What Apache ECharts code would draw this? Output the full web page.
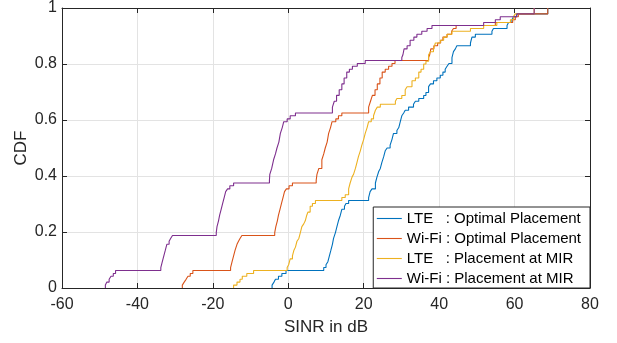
<!DOCTYPE html>
<html>
<head>
<meta charset="utf-8">
<script src="https://cdn.jsdelivr.net/npm/echarts@6/dist/echarts.min.js"></script>
<style>
  html, body { margin: 0; padding: 0; background: #fff; }
  #chart { width: 617px; height: 343px; }
</style>
</head>
<body>
<div id="chart"></div>
<script>
// empirical CDF steps: [SINR (dB), CDF]
const lteOptimal = [
  [-4.3, 0], [-4.3, 0.0104], [-3.8, 0.021], [-3.4, 0.031], [-2.6, 0.042], [-1.7, 0.052], [-0.6, 0.0625],
  [9.4, 0.073], [10.0, 0.083], [10.5, 0.094], [10.9, 0.115], [11.3, 0.135], [11.7, 0.156], [12.0, 0.177],
  [12.5, 0.198], [12.9, 0.219], [13.3, 0.24], [13.8, 0.26], [14.2, 0.281], [14.9, 0.292], [15.3, 0.302], [16.0, 0.3125],
  [21.3, 0.323], [21.7, 0.344], [22.2, 0.354], [23.1, 0.375], [23.5, 0.396], [24.0, 0.417], [24.4, 0.427],
  [24.8, 0.448], [25.3, 0.469], [25.7, 0.49], [26.2, 0.5], [27.0, 0.51], [27.5, 0.531], [27.9, 0.552],
  [28.8, 0.5625], [29.3, 0.573], [29.7, 0.594], [30.1, 0.615], [30.6, 0.625], [31.0, 0.635], [31.9, 0.646],
  [33.2, 0.656], [33.7, 0.667], [34.6, 0.677], [35.9, 0.6875], [36.5, 0.698], [37.2, 0.719], [37.7, 0.729],
  [38.5, 0.74], [39.4, 0.75], [40.3, 0.76], [41.0, 0.771], [41.6, 0.781], [42.1, 0.792], [42.6, 0.802],
  [43.4, 0.823], [43.8, 0.844], [44.3, 0.854], [44.7, 0.865], [48.3, 0.875], [48.7, 0.896], [49.6, 0.906],
  [54.0, 0.917], [54.4, 0.927], [58.0, 0.9375], [58.4, 0.948], [59.3, 0.958], [59.7, 0.969], [60.5, 0.979], [68.8, 1.0]
]
const wifiOptimal = [
  [-28.1, 0], [-28.1, 0.0104], [-27.6, 0.021], [-27.1, 0.031], [-26.6, 0.042], [-26.0, 0.052], [-25.3, 0.0625],
  [-15.3, 0.073], [-14.9, 0.094], [-14.5, 0.115], [-14.1, 0.135], [-13.6, 0.156], [-13.2, 0.167], [-12.8, 0.177], [-12.3, 0.1875],
  [-3.6, 0.198], [-3.3, 0.219], [-2.9, 0.24], [-2.6, 0.26], [-2.2, 0.281], [-1.8, 0.302], [-1.4, 0.323],
  [-1.0, 0.344], [-0.5, 0.354], [0.2, 0.365], [1.1, 0.375],
  [7.4, 0.385], [7.6, 0.406], [8.1, 0.427], [8.9, 0.458], [9.4, 0.479], [9.8, 0.5], [10.3, 0.521],
  [10.7, 0.552], [11.2, 0.573], [11.6, 0.594], [12.6, 0.604], [13.3, 0.615], [14.2, 0.625],
  [21.3, 0.646], [21.8, 0.667], [22.3, 0.688], [23.0, 0.708], [23.6, 0.729], [24.3, 0.75], [24.9, 0.771],
  [25.7, 0.781], [26.6, 0.792], [27.5, 0.802], [28.3, 0.8125],
  [37.2, 0.823], [37.5, 0.833], [37.8, 0.854], [38.6, 0.865], [39.6, 0.875], [40.4, 0.885], [41.0, 0.896],
  [42.1, 0.906], [43.3, 0.917], [43.8, 0.927], [44.5, 0.9375],
  [54.9, 0.948], [59.5, 0.958], [60.2, 0.969], [61.0, 0.979], [68.8, 1.0]
]
const lteMir = [
  [-14.5, 0], [-14.5, 0.0104], [-13.6, 0.021], [-12.8, 0.031], [-12.2, 0.042], [-11.0, 0.052], [-9.2, 0.0625],
  [-0.3, 0.073], [0.1, 0.083], [0.5, 0.104], [1.1, 0.115], [1.5, 0.135], [1.9, 0.146], [2.3, 0.167], [2.8, 0.177],
  [3.2, 0.198], [3.6, 0.219], [4.1, 0.229], [4.5, 0.24], [4.9, 0.26], [5.2, 0.271], [5.8, 0.292], [6.4, 0.302], [7.2, 0.3125],
  [14.2, 0.323], [15.1, 0.333], [16.0, 0.354], [16.4, 0.375], [16.9, 0.396], [17.3, 0.406], [17.8, 0.427],
  [18.2, 0.448], [18.6, 0.469], [19.1, 0.49], [19.5, 0.51], [20.0, 0.531], [20.4, 0.552], [20.9, 0.573],
  [21.3, 0.594], [22.0, 0.604], [22.6, 0.615], [23.1, 0.635], [23.6, 0.646], [24.4, 0.656], [28.4, 0.667],
  [28.8, 0.677], [30.1, 0.6875], [31.0, 0.708], [31.5, 0.719], [32.8, 0.74], [33.7, 0.75], [34.6, 0.771],
  [35.2, 0.781], [35.9, 0.8], [36.5, 0.81], [37.2, 0.833], [37.7, 0.844], [38.5, 0.854], [39.0, 0.875],
  [40.3, 0.885], [41.2, 0.896], [42.1, 0.906], [43.4, 0.917], [48.3, 0.927], [51.8, 0.9375], [55.3, 0.948],
  [58.9, 0.958], [59.7, 0.969], [60.2, 0.979], [65.2, 1.0]
]
const wifiMir = [
  [-48.5, 0], [-48.5, 0.0104], [-48.1, 0.021], [-47.5, 0.031], [-47.0, 0.042], [-46.4, 0.052], [-45.8, 0.0625],
  [-33.8, 0.073], [-33.4, 0.094], [-33.0, 0.115], [-32.6, 0.135], [-32.2, 0.156], [-31.6, 0.167], [-31.2, 0.177], [-30.7, 0.1875],
  [-19.1, 0.198], [-18.9, 0.219], [-18.5, 0.24], [-18.2, 0.26], [-17.8, 0.281], [-17.4, 0.302], [-17.0, 0.323],
  [-16.6, 0.344], [-16.1, 0.354], [-15.5, 0.365], [-14.5, 0.375],
  [-5.0, 0.385], [-4.9, 0.406], [-4.4, 0.427], [-3.9, 0.458], [-3.4, 0.479], [-3.0, 0.5], [-2.5, 0.521],
  [-2.1, 0.552], [-1.6, 0.573], [-1.2, 0.594], [-0.3, 0.604], [0.5, 0.615], [1.9, 0.625],
  [11.7, 0.646], [12.2, 0.667], [12.8, 0.688], [13.5, 0.708], [14.2, 0.729], [14.8, 0.75], [15.5, 0.771],
  [16.2, 0.781], [17.0, 0.792], [18.3, 0.802], [20.4, 0.8125],
  [30.1, 0.823], [30.4, 0.833], [30.7, 0.854], [31.5, 0.865], [32.3, 0.885], [33.3, 0.896], [34.1, 0.906],
  [35.4, 0.917], [36.8, 0.927], [38.1, 0.9375],
  [51.8, 0.948], [54.9, 0.958], [56.2, 0.969], [60.6, 0.979], [65.2, 1.0]
]

const seriesNames = [
  'LTE   : Optimal Placement',
  'Wi-Fi : Optimal Placement',
  'LTE   : Placement at MIR',
  'Wi-Fi : Placement at MIR'
]
const seriesColors = ['#0072BD', '#D95319', '#EDB120', '#7E2F8E']
const seriesData = [lteOptimal, wifiOptimal, lteMir, wifiMir]

const xTicks = { min: -60, max: 80, interval: 20 }
const yTicks = { min: 0, max: 1, interval: 0.2 }

const font = 'Liberation Sans, Arial, sans-serif'
const axisColor = '#262626'

const chart = echarts.init(document.getElementById('chart'), null, { renderer: 'canvas' })

const frameAxis = (extra) => Object.assign({
  type: 'value',
  axisLine: { show: true, onZero: false, lineStyle: { color: axisColor, width: 1 } },
  axisTick: { show: true, inside: true, length: 5, lineStyle: { color: axisColor } },
  axisLabel: { show: false },
  splitLine: { show: false }
}, extra)

chart.setOption({
  animation: false,
  grid: { left: 62, right: 27, top: 8, bottom: 55 },
  xAxis: [
    frameAxis({
      position: 'bottom',
      min: xTicks.min, max: xTicks.max, interval: xTicks.interval,
      name: 'SINR in dB',
      nameLocation: 'middle',
      nameGap: 31,
      nameMoveOverlap: false,
      nameTextStyle: { fontFamily: font, fontSize: 17, color: axisColor },
      axisLabel: { show: true, margin: 9, fontFamily: font, fontSize: 16, color: axisColor },
      splitLine: { show: true, lineStyle: { color: '#e3e3e3', width: 1 } }
    }),
    frameAxis({ position: 'top', min: xTicks.min, max: xTicks.max, interval: xTicks.interval })
  ],
  yAxis: [
    frameAxis({
      position: 'left',
      min: yTicks.min, max: yTicks.max, interval: yTicks.interval,
      name: 'CDF',
      nameLocation: 'middle',
      nameGap: 32,
      nameRotate: 90,
      nameMoveOverlap: false,
      nameTextStyle: { fontFamily: font, fontSize: 17, color: axisColor },
      axisLabel: { show: true, margin: 5, fontFamily: font, fontSize: 16, color: axisColor },
      splitLine: { show: true, lineStyle: { color: '#e3e3e3', width: 1 } }
    }),
    frameAxis({ position: 'right', min: yTicks.min, max: yTicks.max, interval: yTicks.interval })
  ],
  legend: {
    orient: 'vertical',
    right: 27,
    bottom: 55,
    backgroundColor: '#fff',
    borderColor: axisColor,
    borderWidth: 1,
    borderRadius: 0,
    padding: [4, 9, 2, 3],
    itemWidth: 25,
    itemHeight: 14,
    itemGap: 5,
    itemStyle: { opacity: 0 },
    lineStyle: { width: 1.1 },
    textStyle: { fontFamily: font, fontSize: 15, color: '#000' },
    data: seriesNames
  },
  series: seriesData.map((d, i) => ({
    name: seriesNames[i],
    type: 'line',
    step: 'end',
    data: d,
    symbol: 'none',
    color: seriesColors[i],
    lineStyle: { width: 1.1, color: seriesColors[i] }
  }))
})
</script>
</body>
</html>
